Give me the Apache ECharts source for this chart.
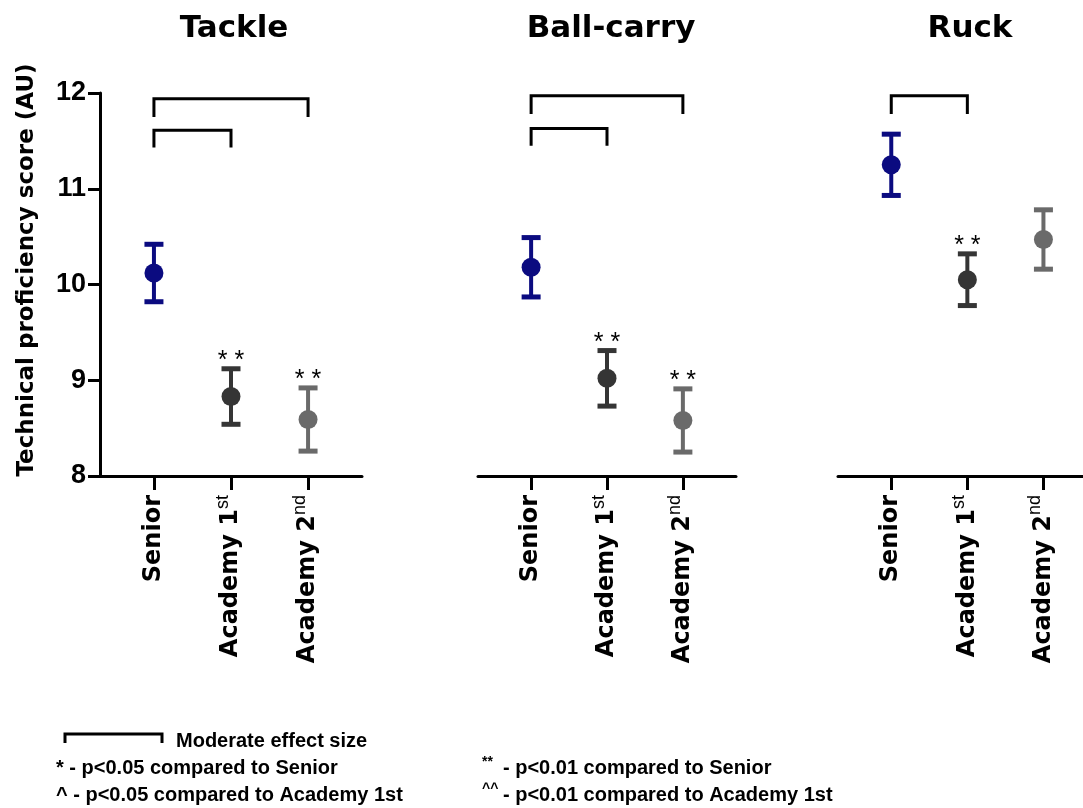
<!DOCTYPE html>
<html>
<head>
<meta charset="utf-8">
<script src="https://cdn.jsdelivr.net/npm/echarts@6/dist/echarts.min.js"></script>
<style>html,body{margin:0;background:#fff}#chart{width:1083px;height:808px}</style>
</head>
<body>
<div id="chart"></div>
<script>
// groups on the x axis, superscript part kept apart
const groups = ['Senior', 'Academy 1', 'Academy 2'];
const groupSup = ['', 'st', 'nd'];
const panels = ['Tackle', 'Ball-carry', 'Ruck'];
const colors = ['#0b0b80', '#353535', '#6a6a6a'];

const tackleMean = [10.12, 8.83, 8.59];
const tackleErr = [0.30, 0.29, 0.33];
const tackleStars = ['', '**', '**'];
const carryMean = [10.18, 9.02, 8.58];
const carryErr = [0.31, 0.29, 0.33];
const carryStars = ['', '**', '**'];
const ruckMean = [11.25, 10.05, 10.47];
const ruckErr = [0.32, 0.27, 0.31];
const ruckStars = ['', '**', ''];

// brackets: [from group, to group, bar height, leg end]
const tackleBrackets = [[0, 2, 11.94, 11.75], [0, 1, 11.61, 11.43]];
const carryBrackets = [[0, 2, 11.97, 11.78], [0, 1, 11.63, 11.45]];
const ruckBrackets = [[0, 1, 11.97, 11.78]];

const yMin = 8, yMax = 12;

const means = [tackleMean, carryMean, ruckMean];
const errs = [tackleErr, carryErr, ruckErr];
const stars = [tackleStars, carryStars, ruckStars];
const brackets = [tackleBrackets, carryBrackets, ruckBrackets];

const grids = [
    {left: 100, top: 93, width: 262, height: 383},
    {left: 478, top: 93, width: 258, height: 383},
    {left: 838, top: 93, width: 245, height: 383}
];
const xMax = [2.7, 2.7, 2.52];
const titleX = [229, 606, 965];

const chart = echarts.init(document.getElementById('chart'));

function errorItem(k) {
    return function (params, api) {
        const i = api.value(0), m = api.value(1), e = api.value(2);
        const c = api.coord([i, m]);
        const hi = api.coord([i, m + e]);
        const lo = api.coord([i, m - e]);
        const color = colors[i];
        const cap = 9.5;
        const kids = [
            {type: 'line', shape: {x1: c[0], y1: hi[1], x2: c[0], y2: lo[1]}, style: {stroke: color, lineWidth: 4}},
            {type: 'line', shape: {x1: c[0] - cap, y1: hi[1], x2: c[0] + cap, y2: hi[1]}, style: {stroke: color, lineWidth: 5}},
            {type: 'line', shape: {x1: c[0] - cap, y1: lo[1], x2: c[0] + cap, y2: lo[1]}, style: {stroke: color, lineWidth: 5}},
            {type: 'circle', shape: {cx: c[0], cy: c[1], r: 9.5}, style: {fill: color}}
        ];
        const s = stars[k][params.dataIndex];
        if (s) {
            // spaced out like the original asterisks
            kids.push({type: 'text', x: c[0], y: hi[1] + 5, style: {
                text: s.split('').join(' '), textAlign: 'center', textVerticalAlign: 'bottom',
                font: '25px "Liberation Sans"', fill: '#000'
            }});
        }
        return {type: 'group', children: kids};
    };
}

function bracketItem(params, api) {
    const a = api.value(0), b = api.value(1), top = api.value(2), leg = api.value(3);
    const p1 = api.coord([a, leg]), p2 = api.coord([a, top]);
    const p3 = api.coord([b, top]), p4 = api.coord([b, leg]);
    return {type: 'polyline', shape: {points: [p1, p2, p3, p4]},
        style: {stroke: '#000', lineWidth: 3, fill: null}};
}

const xAxes = [], yAxes = [], series = [], titles = [];
for (let k = 0; k < 3; k++) {
    titles.push({text: panels[k], left: titleX[k], top: 8, textAlign: 'center',
        textStyle: {fontFamily: 'DejaVu Sans', fontWeight: 'bold', fontSize: 31, color: '#000'}});
    xAxes.push({
        type: 'value', gridIndex: k, min: -0.7, max: xMax[k],
        splitLine: {show: false},
        axisLine: {onZero: false, lineStyle: {color: '#000', width: 3}},
        axisTick: {customValues: [0, 1, 2], length: 14, lineStyle: {color: '#000', width: 3}},
        axisLabel: {
            customValues: [0, 1, 2], rotate: 90, margin: 19,
            formatter: function (v) {
                const i = Math.round(v);
                return '{m|' + groups[i] + '}' + (groupSup[i] ? '{s|' + groupSup[i] + '}' : '');
            },
            rich: {
                m: {fontFamily: 'DejaVu Sans', fontWeight: 'bold', fontSize: 24, lineHeight: 34, color: '#000'},
                s: {fontFamily: 'Liberation Sans', fontSize: 18, lineHeight: 19, verticalAlign: 'top', color: '#000'}
            }
        }
    });
    yAxes.push({
        type: 'value', gridIndex: k, min: yMin, max: yMax, interval: 1,
        show: k === 0,
        splitLine: {show: false},
        axisLine: {show: true, onZero: false, lineStyle: {color: '#000', width: 3}},
        axisTick: {show: true, length: 12, lineStyle: {color: '#000', width: 3}},
        axisLabel: {margin: 14, fontFamily: 'Liberation Sans', fontWeight: 'bold', fontSize: 27, color: '#000'}
    });
    series.push({
        type: 'custom', xAxisIndex: k, yAxisIndex: k, renderItem: bracketItem,
        data: brackets[k], silent: true
    });
    series.push({
        type: 'custom', xAxisIndex: k, yAxisIndex: k, renderItem: errorItem(k),
        data: means[k].map((m, i) => [i, m, errs[k][i]]), silent: true
    });
}

const legendFont = 'bold 20px "Liberation Sans"';
const supFont = 'bold 14px "Liberation Sans"';
chart.setOption({
    animation: false,
    title: titles,
    grid: grids,
    xAxis: xAxes,
    yAxis: yAxes,
    series: series,
    graphic: [
        {type: 'text', x: 27, y: 270, rotation: Math.PI / 2, style: {
            text: 'Technical proficiency score (AU)', font: 'bold 23px "DejaVu Sans"',
            textAlign: 'center', textVerticalAlign: 'middle', fill: '#000'}},
        {type: 'polyline', shape: {points: [[65, 743], [65, 734], [162, 734], [162, 743]]},
            style: {stroke: '#000', lineWidth: 3, fill: null}},
        {type: 'text', x: 176, y: 741, style: {text: 'Moderate effect size', font: legendFont, textVerticalAlign: 'middle', fill: '#000'}},
        {type: 'text', x: 56, y: 768, style: {text: '* - p<0.05 compared to Senior', font: legendFont, textVerticalAlign: 'middle', fill: '#000'}},
        {type: 'text', x: 56, y: 795, style: {text: '^ - p<0.05 compared to Academy 1st', font: legendFont, textVerticalAlign: 'middle', fill: '#000'}},
        {type: 'text', x: 482, y: 762, style: {text: '**', font: supFont, textVerticalAlign: 'middle', fill: '#000'}},
        {type: 'text', x: 503, y: 768, style: {text: '- p<0.01 compared to Senior', font: legendFont, textVerticalAlign: 'middle', fill: '#000'}},
        {type: 'text', x: 482, y: 789, style: {text: '^^', font: supFont, textVerticalAlign: 'middle', fill: '#000'}},
        {type: 'text', x: 503, y: 795, style: {text: '- p<0.01 compared to Academy 1st', font: legendFont, textVerticalAlign: 'middle', fill: '#000'}}
    ]
});
</script>
</body>
</html>
